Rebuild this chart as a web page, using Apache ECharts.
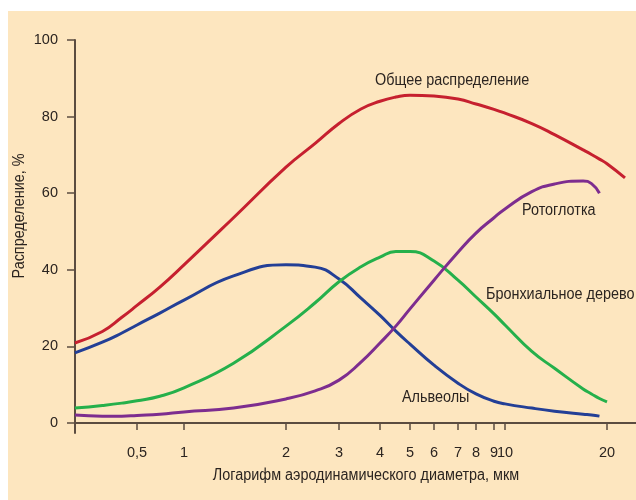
<!DOCTYPE html>
<html>
<head>
<meta charset="utf-8">
<script src="https://cdn.jsdelivr.net/npm/echarts@6/dist/echarts.min.js"></script>
<style>
  html, body { margin: 0; padding: 0; background: #ffffff; }
  #bg { position: absolute; left: 8px; top: 11px; width: 628px; height: 489px; background: #fde6bf; }
  #c { position: absolute; left: 0; top: 0; width: 636px; height: 500px; }
</style>
</head>
<body>
<div id="bg"></div>
<div id="c"></div>
<script>
// ---- Data ----
const diameters = [0.2, 0.3, 0.4, 0.5, 0.7, 1, 1.4, 2, 2.5, 3, 3.5, 4, 4.5, 5, 6, 7, 8, 9, 10, 12, 14, 17, 18, 19, 20, 22.6];
const totalDep   = [20.9, 23.9, 27.6, 30.7, 35.5, 41.3, 53.6, 66.8, 73.0, 78.2, 82.0, 84.0, 85.1, 85.6, 85.4, 84.6, 83.3, 81.9, 80.9, 78.2, 75.3, 71.3, 70.1, 68.9, 67.7, 64.0];
const alveoli    = [18.3, 21.1, 23.5, 25.6, 28.7, 32.1, 38.4, 41.3, 40.7, 37.6, 32.6, 28.1, 24.0, 20.6, 15.1, 10.4, 7.6, 5.7, 5.0, 3.9, 3.1, 2.3, 2.1, 1.8, null, null];
const bronchi    = [3.9, 4.6, 5.2, 5.8, 7.0, 9.2, 15.6, 25.3, 31.4, 36.9, 40.8, 43.3, 44.8, 44.8, 42.3, 37.3, 32.9, 28.5, 25.6, 18.7, 14.3, 8.9, 7.6, 6.4, 5.5, null];
const pharynx    = [2.1, 1.8, 1.8, 2.0, 2.3, 2.9, 3.9, 6.3, 8.4, 11.2, 15.9, 20.9, 25.3, 29.8, 37.3, 44.6, 49.6, 53.6, 55.9, 60.4, 62.4, 63.2, 62.5, 60.0, null, null];

const tickDiam   = [0.5, 1, 2, 3, 4, 5, 6, 7, 8, 9, 10, 20];
const tickLabels = ['0,5', '1', '2', '3', '4', '5', '6', '7', '8', '9', '10', '20'];
const yTicks     = [0, 20, 40, 60, 80, 100];

// Axis scale of the original figure: a hand-spaced logarithmic axis.
// Anchor positions (axis units) for each labelled diameter; log-interpolated between them.
const tickAxisPos = [62, 109, 211, 264, 305, 335, 359, 383, 401, 419, 430, 532];
function axisPos(d) {
  const L = Math.log10;
  let i = 0;
  if (d <= tickDiam[0]) i = 0;
  else if (d >= tickDiam[tickDiam.length - 1]) i = tickDiam.length - 2;
  else { while (d > tickDiam[i + 1]) i++; }
  const d0 = tickDiam[i], d1 = tickDiam[i + 1];
  const p0 = tickAxisPos[i], p1 = tickAxisPos[i + 1];
  return p0 + (p1 - p0) * (L(d) - L(d0)) / (L(d1) - L(d0));
}
const tickPosList = tickDiam.map(axisPos);
function labelFor(v) {
  for (let i = 0; i < tickPosList.length; i++) {
    if (Math.abs(tickPosList[i] - v) < 0.01) return tickLabels[i];
  }
  return '';
}
function pts(arr) {
  return diameters.map((d, i) => [axisPos(d), arr[i]]);
}

const FONT = '"Liberation Sans", Arial, sans-serif';
const TXT = '#2b2420';
const AX = '#5b4c40';
const SX = 0.9;

const chart = echarts.init(document.getElementById('c'), null, { renderer: 'canvas' });
const mkSeries = (name, data, color) => ({
  name, type: 'line', data: pts(data), smooth: 0.5, showSymbol: false, symbol: 'none',
  connectNulls: false, lineStyle: { color, width: 3 }, itemStyle: { color }, z: 3
});
const label = (text, x, y, align, rot) => ({
  type: 'text', x, y, rotation: rot || 0, scaleX: SX,
  style: { text, fill: TXT, font: '16px ' + FONT, textAlign: align, textVerticalAlign: 'middle' }
});

chart.setOption({
  backgroundColor: 'transparent',
  animation: false,
  textStyle: { fontFamily: FONT },
  grid: { left: 75, right: 0, top: 40, bottom: 67, containLabel: false },
  xAxis: {
    type: 'value', min: 0, max: 561,
    axisLine: { show: true, onZero: true, lineStyle: { color: AX, width: 2 } },
    axisTick: { show: true, inside: false, length: 7, customValues: tickPosList, lineStyle: { color: AX, width: 1.5 } },
    axisLabel: { customValues: tickPosList, formatter: labelFor, margin: 12, fontFamily: FONT, fontSize: 14.5, color: TXT },
    splitLine: { show: false }
  },
  yAxis: {
    type: 'value', min: -2.6, max: 100,
    axisLine: { show: true, onZero: false, lineStyle: { color: AX, width: 2 } },
    axisTick: { show: true, inside: false, length: 8, customValues: yTicks, lineStyle: { color: AX, width: 1.5 } },
    axisLabel: { customValues: yTicks, margin: 17, fontFamily: FONT, fontSize: 14.5, color: TXT },
    splitLine: { show: false }
  },
  graphic: [
    label('Логарифм аэродинамического диаметра, мкм', 366, 476, 'center'),
    label('Распределение, %', 20, 216, 'center', Math.PI / 2),
    label('Общее распределение', 375, 81, 'left'),
    label('Ротоглотка', 522, 211, 'left'),
    label('Бронхиальное дерево', 486, 295, 'left'),
    label('Альвеолы', 402, 398, 'left')
  ],
  series: [
    mkSeries('Общее распределение', totalDep, '#c6202f'),
    mkSeries('Альвеолы', alveoli, '#233f96'),
    mkSeries('Бронхиальное дерево', bronchi, '#25b04b'),
    mkSeries('Ротоглотка', pharynx, '#7d2d8f')
  ]
});
</script>
</body>
</html>
